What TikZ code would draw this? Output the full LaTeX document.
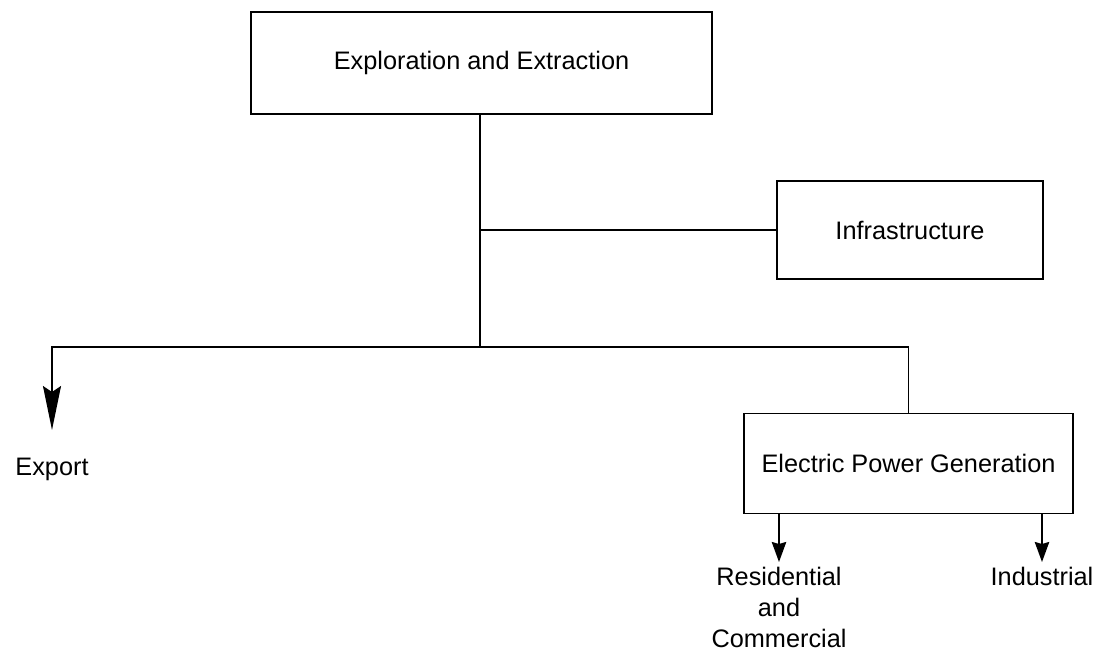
\documentclass[tikz,border=0pt]{standalone}
\usepackage{fontspec}
\setmainfont{Liberation Sans}
\usetikzlibrary{positioning, arrows.meta}
\begin{document}
\begin{tikzpicture}[
        font=\fontsize{18}{22}\selectfont,
        box/.style={draw, line width=1.3pt, minimum height=#1, align=center},
        box/.default=2.5cm,
        line/.style={line width=1.3pt},
        arr/.style={-{Stealth[length=5mm, width=3.6mm, inset=0.5mm]}, line width=1.3pt},
        bigarr/.style={-{Stealth[length=11mm, width=4.5mm, inset=1.5mm]}, line width=1.3pt},
        lbl/.style={align=center},
    ]
    \useasboundingbox (0,0) rectangle (27.5,-16.45);

    % Exploration and extraction
    \node[box=2.55cm, minimum width=11.525cm] (explore) at (12.0375,-1.575) {Exploration and Extraction};

    % Infrastructure
    \node[box=2.45cm, minimum width=6.65cm] (infra) at (22.75,-5.75) {Infrastructure};

    % Electric power generation
    \node[box, minimum width=8.225cm] (power) at (22.7125,-11.5875) {Electric Power Generation};

    % Junctions
    \coordinate (trunk) at (12.0,-8.675);
    \coordinate (exptip) at (1.3,-10.75);

    % End uses
    \node[lbl, below=0.58cm of exptip] (export) {Export};
    \node[lbl, anchor=north] (res) at (19.475,-14.05) {Residential\\and\\Commercial};
    \node[lbl, anchor=north] (ind) at (26.05,-14.05) {Industrial};

    % Connectors
    \draw[line] (explore.south -| trunk) -- (trunk);
    \draw[line] (trunk |- infra.west) -- (infra.west);
    \draw[bigarr] (power.north) |- (trunk) -| (exptip);
    \draw[arr] (power.south -| res.north) -- (res.north);
    \draw[arr] (power.south -| ind.north) -- (ind.north);
\end{tikzpicture}
\end{document}
